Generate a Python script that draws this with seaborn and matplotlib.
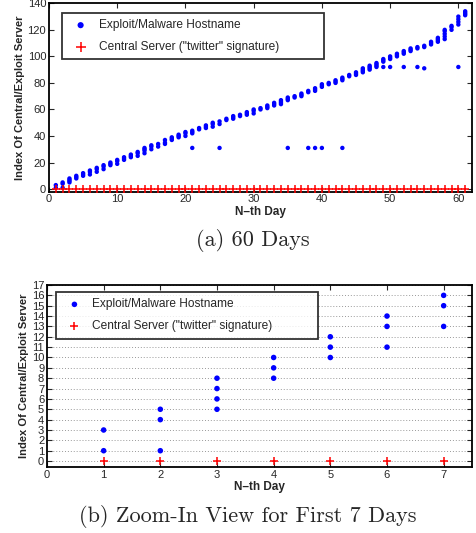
import numpy as np
import pandas as pd
import matplotlib
matplotlib.use("Agg")
import matplotlib.pyplot as plt
import seaborn as sns

# blue dots: index of exploit/malware hostnames seen on each day
exploit_by_day = [
    [1, 3], [1, 4, 5], [5, 6, 7, 8], [8, 9, 10], [10, 11, 12], [11, 13, 14], [13, 15, 16],
    [15, 17, 18], [18, 19, 20], [19, 21, 22], [22, 23, 24], [24, 25, 26], [25, 27, 28],
    [27, 29, 30, 31], [30, 32, 33], [32, 34], [34, 35, 37], [37, 38, 39], [39, 40, 41],
    [40, 42, 43], [31, 42, 43, 44], [45, 46], [46, 47, 48], [47, 49, 50], [31, 49, 51],
    [52, 53], [53, 54, 55], [55, 56], [56, 57, 58], [57, 59, 60], [60, 61], [61, 62, 63],
    [63, 64, 65], [64, 65, 66, 67], [31, 67, 68, 69], [69, 70], [70, 71, 72], [31, 73, 74],
    [31, 74, 75, 76], [31, 77, 78, 79], [79, 80], [80, 81, 82], [31, 82, 83, 84], [85, 86],
    [86, 87, 88], [88, 89, 90, 91], [90, 91, 92, 93], [92, 93, 94, 95], [92, 96, 97, 98],
    [92, 98, 99, 100], [100, 101, 102], [92, 102, 103, 104], [104, 105, 106], [92, 106, 107],
    [91, 107, 108], [109, 110, 111], [111, 112, 113, 114], [113, 115, 117, 119, 120],
    [120, 122, 123], [92, 124, 126, 128, 130], [131, 132, 133, 134],
]
days = list(range(1, 62))
central_idx = [0] * 61  # red crosses: the central server always has index 0

zoom_days = 7
label_exploit = "Exploit/Malware Hostname"
label_central = 'Central Server ("twitter" signature)'

rows = []
for d, idx in zip(days, exploit_by_day):
    for v in idx:
        rows.append({"day": d, "index": v})
exploit = pd.DataFrame(rows)
central = pd.DataFrame({"day": days, "index": central_idx})

sns.set_style("ticks")
plt.rcParams["font.family"] = ["Liberation Sans", "DejaVu Sans"]
plt.rcParams["xtick.direction"] = "in"
plt.rcParams["ytick.direction"] = "in"
plt.rcParams["xtick.top"] = True
plt.rcParams["ytick.right"] = True

fig = plt.figure(figsize=(4.77, 5.33), dpi=100)
ax1 = fig.add_axes([0.1027, 0.6403, 0.8868, 0.3535])
ax2 = fig.add_axes([0.0985, 0.1233, 0.891, 0.342])


def draw(ax, ex, ce, dot_size, plus_size):
    sns.scatterplot(data=ex, x="day", y="index", ax=ax, color="#0000ff", marker="o",
                    s=dot_size, edgecolor="none", linewidth=0, label=label_exploit, zorder=3)
    sns.scatterplot(data=ce, x="day", y="index", ax=ax, color="#ff0000", marker="+",
                    s=plus_size, linewidth=1.1, label=label_central, zorder=4)
    ax.set_xlabel("N\u2013th Day", fontsize=8.5, fontweight="bold", labelpad=1)
    ax.set_ylabel("Index Of Central/Exploit Server", fontsize=8, fontweight="bold", labelpad=2)
    ax.tick_params(labelsize=8, length=3.5, width=0.8, pad=2)
    for sp in ax.spines.values():
        sp.set_linewidth(1.3)
        sp.set_color("black")


def style_legend(ax, anchor, scale):
    leg = ax.legend(loc="upper left", bbox_to_anchor=anchor, mode="expand",
                    fontsize=8.6, frameon=True, fancybox=False, borderpad=0.55,
                    labelspacing=0.8, handletextpad=0.5, markerscale=scale, borderaxespad=0)
    leg.get_frame().set_edgecolor("black")
    leg.get_frame().set_linewidth(1.3)
    leg.set_zorder(5)


draw(ax1, exploit, central, 10, 28)
ax1.set_xlim(0, 62)
ax1.set_ylim(-2, 140)
ax1.set_xticks(range(0, 61, 10))
ax1.set_yticks(range(0, 141, 20))
style_legend(ax1, (0.031, 0.71, 0.619, 0.24), 1.4)

zoom_ex = exploit[exploit["day"] <= zoom_days]
zoom_ce = central[central["day"] <= zoom_days]
draw(ax2, zoom_ex, zoom_ce, 16, 28)
ax2.set_xlim(0, 7.5)
ax2.set_ylim(-0.6, 17)
ax2.set_xticks(range(0, 8))
ax2.set_yticks(range(0, 18))
ax2.yaxis.grid(True, linestyle=(0, (1, 2)), color="#999999", linewidth=0.7)
style_legend(ax2, (0.021, 0.698, 0.617, 0.264), 1.0)

fig.text(0.53, 1 - 240 / 533, "(a) 60 Days", family="cmr10", fontsize=16,
         ha="center", va="center")
fig.text(0.52, 1 - 516.5 / 533, "(b) Zoom-In View for First 7 Days", family="cmr10",
         fontsize=16, ha="center", va="center")

fig.savefig("out.png", dpi=100)
